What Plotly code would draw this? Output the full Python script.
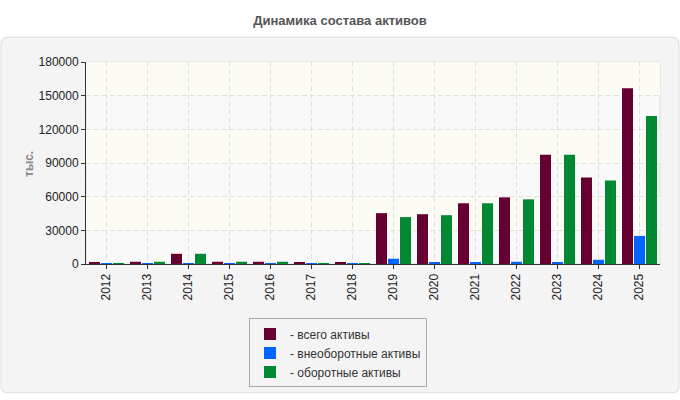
import plotly.graph_objects as go

years = ["2012", "2013", "2014", "2015", "2016", "2017", "2018",
         "2019", "2020", "2021", "2022", "2023", "2024", "2025"]
total_assets = [900, 2000, 9100, 2000, 2000, 900, 900,
                45300, 44400, 54100, 59400, 97300, 77000, 156500]
noncurrent_assets = [300, 500, 500, 300, 300, 300, 300,
                     4700, 900, 900, 2000, 900, 3800, 25000]
current_assets = [700, 2000, 9100, 2000, 2000, 800, 800,
                  41800, 43500, 54100, 57600, 97300, 74400, 131800]
y_ticks = [0, 30000, 60000, 90000, 120000, 150000, 180000]

names = ["- всего активы", "- внеоборотные активы", "- оборотные активы"]
colors = ["#660033", "#0066ff", "#008833"]

W, H = 680, 400
L, R, T, B = 86, 20, 62, 134
pw, ph = W - L - R, H - T - B

def px2x(px):
    return (px - L) / pw

def px2y(py):
    return (H - B - py) / ph

fig = go.Figure()

# hatched background bands (decoration)
for i in range(0, len(y_ticks) - 1, 2):
    lo, hi = y_ticks[i], y_ticks[i + 1]
    fig.add_trace(go.Bar(
        x=years, y=[hi - lo] * len(years), base=[lo] * len(years),
        width=1.0, offset=-0.5,
        marker=dict(color="rgba(0,0,0,0)", line=dict(width=0),
                    pattern=dict(shape="/", size=4, solidity=0.2,
                                 fgcolor="rgba(215,215,215,0.35)",
                                 bgcolor="rgba(0,0,0,0)")),
        showlegend=False, hoverinfo="skip"))

bw = 11 / 41
step = 12 / 41
for k, (vals, name, col) in enumerate(zip([total_assets, noncurrent_assets, current_assets], names, colors)):
    center = (k - 1) * step
    fig.add_trace(go.Bar(
        x=years, y=vals, name=name, width=bw, offset=center - bw / 2,
        marker=dict(color=col, line=dict(width=0))))

shapes = []
# outer rounded panel
x0, x1, y0, y1, r = 1, 679, 37, 396, 7
def P(px, py):
    return f"{px2x(px):.5f},{px2y(py):.5f}"
path = (f"M {P(x0 + r, y0)} L {P(x1 - r, y0)} Q {P(x1, y0)} {P(x1, y0 + r)} "
        f"L {P(x1, y1 - r)} Q {P(x1, y1)} {P(x1 - r, y1)} "
        f"L {P(x0 + r, y1)} Q {P(x0, y1)} {P(x0, y1 - r)} "
        f"L {P(x0, y0 + r)} Q {P(x0, y0)} {P(x0 + r, y0)} Z")
shapes.append(dict(type="path", xref="paper", yref="paper", path=path,
                   fillcolor="#f4f4f4", line=dict(color="#dddddd", width=1), layer="below"))
# plot area backgrounds
shapes.append(dict(type="rect", xref="paper", yref="paper", x0=0, x1=1, y0=0, y1=1,
                   fillcolor="#fafafa", line=dict(color="#dddddd", width=1), layer="below"))
for i in range(1, len(y_ticks) - 1, 2):
    shapes.append(dict(type="rect", xref="paper", yref="y", x0=0, x1=1,
                       y0=y_ticks[i], y1=y_ticks[i + 1],
                       fillcolor="#fcfcf5", line=dict(width=0), layer="below"))

fig.update_layout(
    width=W, height=H,
    margin=dict(l=L, r=R, t=T, b=B),
    paper_bgcolor="white",
    plot_bgcolor="rgba(0,0,0,0)",
    barmode="overlay",
    font=dict(family="Liberation Sans, Arial, sans-serif", size=12, color="#222222"),
    title=dict(text="<b>Динамика состава активов</b>", x=0.5, xref="container",
               y=1 - 20 / H, yref="container", yanchor="middle",
               font=dict(size=13, color="#555555")),
    shapes=shapes,
    showlegend=True,
    legend=dict(x=px2x(249), y=px2y(321), xanchor="left", yanchor="top",
                bgcolor="#f4f4f4", bordercolor="#aaaaaa", borderwidth=1,
                font=dict(size=12, color="#333333"), tracegroupgap=2,
                itemwidth=30),
    annotations=[dict(text="<b>тыс.</b>", xref="paper", yref="paper",
                      x=px2x(20), y=px2y(165), textangle=-90, showarrow=False,
                      font=dict(size=12, color="#888888"))],
)
fig.update_xaxes(
    type="category", range=[-0.5, len(years) - 0.5],
    tickangle=-90, ticks="outside", ticklen=4, tickcolor="#333333",
    showline=True, linecolor="#333333", linewidth=1,
    showgrid=True, gridcolor="#e0e0e0", griddash="5px,3px", gridwidth=1,
    tickfont=dict(size=12, color="#222222"))
fig.update_yaxes(
    range=[0, 180000], tickvals=y_ticks, tickformat="d",
    ticks="outside", ticklen=4, tickcolor="#333333",
    showline=True, linecolor="#333333", linewidth=1,
    showgrid=True, gridcolor="#e0e0e0", griddash="5px,3px", gridwidth=1,
    zeroline=False, tickfont=dict(size=12, color="#222222"))

fig.write_html("out.html")
